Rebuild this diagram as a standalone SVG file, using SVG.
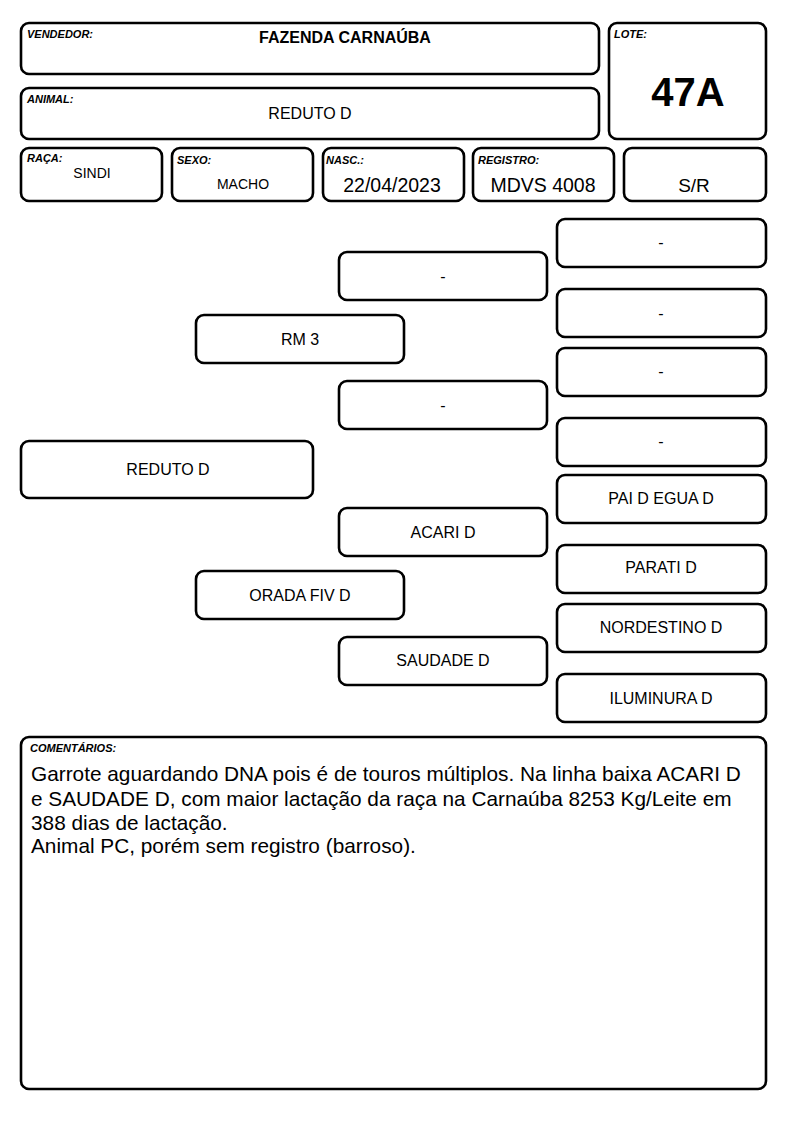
<svg xmlns="http://www.w3.org/2000/svg" width="794" height="1123" viewBox="0 0 794 1123">
<style>
.b{fill:#fff;stroke:#000;stroke-width:2.6}
text{font-family:"Liberation Sans",Arial,sans-serif;fill:#000}
.lb{font-size:11px;font-weight:bold;font-style:italic}
.v{text-anchor:middle}
.p{font-size:16px;text-anchor:middle}
</style>
<rect width="794" height="1123" fill="#fff"/>
<g id="vendedor"><rect class="b" x="21" y="23" width="578" height="51" rx="8"/><text class="lb" x="27" y="38">VENDEDOR:</text><text class="v" x="345" y="43" font-size="16" font-weight="bold">FAZENDA CARNAÚBA</text></g>
<g id="animal"><rect class="b" x="21" y="88" width="578" height="51" rx="8"/><text class="lb" x="27" y="103">ANIMAL:</text><text class="v" x="310" y="119" font-size="16">REDUTO D</text></g>
<g id="lote"><rect class="b" x="609" y="23" width="157" height="116" rx="8"/><text class="lb" x="614" y="38">LOTE:</text><text class="v" x="688" y="106" font-size="40" font-weight="bold">47A</text></g>
<g id="raca"><rect class="b" x="21" y="148" width="141" height="53" rx="8"/><text class="lb" x="27" y="162">RAÇA:</text><text class="v" x="92" y="178" font-size="14">SINDI</text></g>
<g id="sexo"><rect class="b" x="172" y="148" width="141" height="53" rx="8"/><text class="lb" x="177" y="164">SEXO:</text><text class="v" x="243" y="189" font-size="14">MACHO</text></g>
<g id="nasc"><rect class="b" x="323" y="148" width="141" height="53" rx="8"/><text class="lb" x="326" y="164">NASC.:</text><text class="v" x="392" y="192" font-size="19.5">22/04/2023</text></g>
<g id="registro"><rect class="b" x="473" y="148" width="141" height="53" rx="8"/><text class="lb" x="478" y="164">REGISTRO:</text><text class="v" x="543" y="192" font-size="19.5">MDVS 4008</text></g>
<g id="sr"><rect class="b" x="624" y="148" width="142" height="53" rx="8"/><text class="v" x="694" y="192" font-size="19">S/R</text></g>
<g id="connectors"></g>
<g id="n-reduto"><rect class="b" x="21" y="441" width="292" height="57" rx="8"/><text class="p" x="168" y="475">REDUTO D</text></g>
<g id="n-rm3"><rect class="b" x="196" y="315" width="208" height="48" rx="8"/><text class="p" x="300" y="345">RM 3</text></g>
<g id="n-orada"><rect class="b" x="196" y="571" width="208" height="48" rx="8"/><text class="p" x="300" y="601">ORADA FIV D</text></g>
<g id="n-p1"><rect class="b" x="339" y="252" width="208" height="48" rx="8"/><text class="p" x="443" y="282">-</text></g>
<g id="n-p2"><rect class="b" x="339" y="381" width="208" height="48" rx="8"/><text class="p" x="443" y="411">-</text></g>
<g id="n-acari"><rect class="b" x="339" y="508" width="208" height="48" rx="8"/><text class="p" x="443" y="538">ACARI D</text></g>
<g id="n-saudade"><rect class="b" x="339" y="637" width="208" height="48" rx="8"/><text class="p" x="443" y="666">SAUDADE D</text></g>
<g id="n-g1"><rect class="b" x="557" y="219" width="209" height="48" rx="8"/><text class="p" x="661" y="248">-</text></g>
<g id="n-g2"><rect class="b" x="557" y="289" width="209" height="48" rx="8"/><text class="p" x="661" y="319">-</text></g>
<g id="n-g3"><rect class="b" x="557" y="348" width="209" height="48" rx="8"/><text class="p" x="661" y="377">-</text></g>
<g id="n-g4"><rect class="b" x="557" y="418" width="209" height="48" rx="8"/><text class="p" x="661" y="447">-</text></g>
<g id="n-pai"><rect class="b" x="557" y="475" width="209" height="48" rx="8"/><text class="p" x="661" y="504">PAI D EGUA D</text></g>
<g id="n-parati"><rect class="b" x="557" y="545" width="209" height="48" rx="8"/><text class="p" x="661" y="573">PARATI D</text></g>
<g id="n-nordestino"><rect class="b" x="557" y="604" width="209" height="48" rx="8"/><text class="p" x="661" y="633">NORDESTINO D</text></g>
<g id="n-iluminura"><rect class="b" x="557" y="674" width="209" height="48" rx="8"/><text class="p" x="661" y="704">ILUMINURA D</text></g>
<g id="comentarios"><rect class="b" x="21" y="737" width="745" height="352" rx="8"/><text class="lb" x="30" y="752">COMENTÁRIOS:</text>
<text font-size="20.8"><tspan x="31" y="781">Garrote aguardando DNA pois é de touros múltiplos. Na linha baixa ACARI D</tspan><tspan x="31" y="806">e SAUDADE D, com maior lactação da raça na Carnaúba 8253 Kg/Leite em</tspan><tspan x="31" y="830">388 dias de lactação.</tspan><tspan x="31" y="853">Animal PC, porém sem registro (barroso).</tspan></text></g>
</svg>
